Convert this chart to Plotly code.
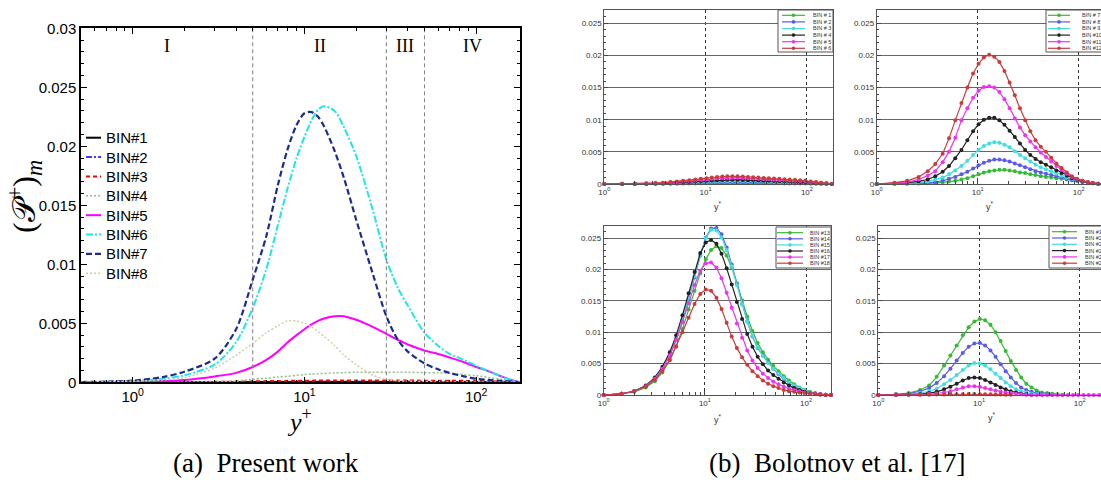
import math
import plotly.graph_objects as go

W, H = 1101, 480

# ------------------------------------------------------------------
# Panel (a): Present work
# ------------------------------------------------------------------
yplus_a = [0.5, 1, 1.5, 2, 3, 4, 5, 6, 7, 8, 9, 10, 11, 12, 13, 15, 17, 20, 25, 30,
           35, 40, 50, 60, 70, 85, 100, 120, 140, 160, 180]

a_names = ["BIN#1", "BIN#2", "BIN#3", "BIN#4", "BIN#5", "BIN#6", "BIN#7", "BIN#8"]

a_bin1 = [0, 0, 0, 0, 0.00001, 0.00001, 0.00002, 0.00002, 0.00002, 0.00002, 0.00003,
          0.00003, 0.00003, 0.00003, 0.00003, 0.00003, 0.00003, 0.00003, 0.00003, 0.00003,
          0.00003, 0.00003, 0.00002, 0.00002, 0.00002, 0.00002, 0.00002, 0.00001, 0.00001, 0, 0]
a_bin2 = [0, 0, 0, 0.00001, 0.00002, 0.00003, 0.00004, 0.00004, 0.00005, 0.00005, 0.00006,
          0.00006, 0.00006, 0.00006, 0.00006, 0.00006, 0.00006, 0.00006, 0.00006, 0.00006,
          0.00006, 0.00006, 0.00005, 0.00005, 0.00005, 0.00004, 0.00004, 0.00003, 0.00002, 0.00001, 0]
a_bin3 = [0, 0, 0.00001, 0.00002, 0.00004, 0.00006, 0.00008, 0.0001, 0.00011, 0.00012, 0.00013,
          0.00014, 0.00014, 0.00015, 0.00015, 0.00015, 0.00015, 0.00015, 0.00015, 0.00015,
          0.00015, 0.00015, 0.00014, 0.00014, 0.00013, 0.00012, 0.00011, 0.00009, 0.00006, 0.00003, 0]
a_bin4 = [0, 0, 0.00001, 0.00002, 0.00005, 0.0001, 0.00025, 0.00035, 0.00045, 0.0005, 0.0006,
          0.00065, 0.0007, 0.00072, 0.00075, 0.0008, 0.00082, 0.00085, 0.00085, 0.00085,
          0.00085, 0.00085, 0.00082, 0.0008, 0.00075, 0.00065, 0.00055, 0.0004, 0.00025, 0.0001, 0]
a_bin5 = [0, 0.00005, 0.0001, 0.0002, 0.0005, 0.0008, 0.0013, 0.0019, 0.0026, 0.0034, 0.004,
          0.0045, 0.0049, 0.0052, 0.0054, 0.0056, 0.0056, 0.0053, 0.0047, 0.0041,
          0.0036, 0.0032, 0.0027, 0.0024, 0.0021, 0.0017, 0.0013, 0.0009, 0.0005, 0.0002, 0]
a_bin6 = [0.00001, 0.0001, 0.0003, 0.0006, 0.0015, 0.0034, 0.0063, 0.0096, 0.0133, 0.0165, 0.019,
          0.0208, 0.0222, 0.0231, 0.0234, 0.023, 0.0216, 0.0192, 0.0146, 0.0104,
          0.008, 0.0065, 0.0042, 0.0031, 0.0024, 0.0019, 0.0014, 0.0009, 0.0005, 0.0002, 0]
a_bin7 = [0.00002, 0.00014, 0.00045, 0.0009, 0.002, 0.0045, 0.0087, 0.0124, 0.0167, 0.0198, 0.0218,
          0.0228, 0.0229, 0.0225, 0.0217, 0.0196, 0.0173, 0.0138, 0.0092, 0.0056,
          0.0036, 0.0026, 0.0016, 0.0011, 0.0008, 0.0005, 0.0003, 0.0002, 0.00012, 0.00006, 0]
a_bin8 = [0, 0.0001, 0.0002, 0.0004, 0.0012, 0.0023, 0.0033, 0.0042, 0.0048, 0.0052, 0.0052,
          0.005, 0.0047, 0.0043, 0.0039, 0.0031, 0.0023, 0.0015, 0.0006, 0.00025,
          0.00012, 0.0001, 0.00005, 0.00003, 0.00003, 0.00002, 0.00002, 0.00001, 0.00001, 0, 0]
a_series = [a_bin1, a_bin2, a_bin3, a_bin4, a_bin5, a_bin6, a_bin7, a_bin8]

region_bounds = [0.5, 5, 30, 50, 180]
region_labels = ["I", "II", "III", "IV"]

x_tick_vals = [1, 10, 100]
x_tick_text = ["10<sup>0</sup>", "10<sup>1</sup>", "10<sup>2</sup>"]

# ------------------------------------------------------------------
# Panel (b): Bolotnov et al.
# ------------------------------------------------------------------
yplus_b = [1.0, 1.5, 2.0, 2.6, 3.2, 3.8, 4.5, 5.2, 6.0, 6.9,
           7.9, 9.0, 10.2, 11.5, 13.0, 14.6, 16.4, 18.4, 20.7, 23.3,
           26.2, 29.5, 33.2, 37.4, 42.1, 47.4, 53.4, 60.1, 67.7, 76.2,
           85.8, 96.6, 109, 123, 138, 156, 176]

# top-left: BIN #1 - #6
b_bin1 = [0, 0, 0, 0.00001, 0.00002, 0.00002, 0.00004, 0.00005, 0.00006, 0.00007,
          0.00008, 0.0001, 0.00011, 0.00012, 0.00013, 0.00014, 0.00014, 0.00014, 0.00014, 0.00014,
          0.00013, 0.00013, 0.00012, 0.00011, 0.00011, 0.0001, 0.0001, 0.00009, 0.00008, 0.00008,
          0.00007, 0.00007, 0.00005, 0.00004, 0.00002, 0.00001, 0]
b_bin2 = [0, 0, 0.00001, 0.00003, 0.00004, 0.00005, 0.00008, 0.0001, 0.00013, 0.00015,
          0.00018, 0.0002, 0.00023, 0.00025, 0.00028, 0.00029, 0.0003, 0.0003, 0.0003, 0.00029,
          0.00028, 0.00026, 0.00025, 0.00024, 0.00023, 0.00021, 0.0002, 0.00019, 0.00018, 0.00016,
          0.00015, 0.00014, 0.0001, 0.00008, 0.00005, 0.00003, 0]
b_bin3 = [0, 0.00001, 0.00002, 0.00004, 0.00006, 0.00008, 0.00012, 0.00016, 0.0002, 0.00024,
          0.00028, 0.00032, 0.00036, 0.0004, 0.00044, 0.00046, 0.00048, 0.00048, 0.00048, 0.00046,
          0.00044, 0.00042, 0.0004, 0.00038, 0.00036, 0.00034, 0.00032, 0.0003, 0.00028, 0.00026,
          0.00024, 0.00022, 0.00016, 0.00012, 0.00008, 0.00004, 0]
b_bin4 = [0, 0.00001, 0.00003, 0.00005, 0.00008, 0.00011, 0.00017, 0.00022, 0.00028, 0.00033,
          0.00039, 0.00044, 0.0005, 0.00055, 0.0006, 0.00063, 0.00066, 0.00066, 0.00066, 0.00063,
          0.0006, 0.00058, 0.00055, 0.00052, 0.0005, 0.00047, 0.00044, 0.00041, 0.00039, 0.00036,
          0.00033, 0.0003, 0.00022, 0.00017, 0.00011, 0.00006, 0]
b_bin5 = [0, 0.00002, 0.00004, 0.00008, 0.00012, 0.00016, 0.00024, 0.00032, 0.0004, 0.00048,
          0.00056, 0.00064, 0.00072, 0.0008, 0.00088, 0.00092, 0.00095, 0.00096, 0.00096, 0.00092,
          0.00088, 0.00084, 0.0008, 0.00076, 0.00072, 0.00068, 0.00064, 0.0006, 0.00056, 0.00052,
          0.00048, 0.00044, 0.00032, 0.00024, 0.00016, 0.00008, 0]
b_bin6 = [0, 0.00002, 0.00005, 0.0001, 0.00015, 0.0002, 0.0003, 0.0004, 0.0005, 0.0006,
          0.0007, 0.0008, 0.0009, 0.001, 0.0011, 0.00115, 0.0012, 0.0012, 0.0012, 0.00115,
          0.0011, 0.00105, 0.001, 0.00095, 0.0009, 0.00085, 0.0008, 0.00075, 0.0007, 0.00065,
          0.0006, 0.00055, 0.0004, 0.0003, 0.0002, 0.0001, 0]

# top-right: BIN #7 - #12
b_bin7 = [0, 0.00001, 0.00003, 0.00006, 0.0001, 0.00015, 0.00025, 0.0004, 0.0005, 0.0007,
          0.0009, 0.0012, 0.0015, 0.0018, 0.002, 0.0021, 0.0022, 0.0022, 0.0021, 0.002,
          0.0018, 0.0017, 0.0015, 0.0014, 0.0012, 0.0011, 0.001, 0.0009, 0.0008, 0.0007,
          0.0006, 0.0005, 0.0003, 0.0002, 0.0001, 0.00005, 0]
b_bin8 = [0, 0.00003, 0.00006, 0.0001, 0.0002, 0.0003, 0.0005, 0.0008, 0.0011, 0.0015,
          0.0019, 0.0024, 0.0029, 0.0033, 0.0036, 0.0038, 0.0038, 0.0037, 0.0035, 0.0032,
          0.0029, 0.0026, 0.0023, 0.002, 0.0018, 0.0016, 0.0014, 0.0012, 0.001, 0.0008,
          0.0006, 0.0005, 0.0003, 0.0002, 0.0001, 0.00005, 0]
b_bin9 = [0, 0.00005, 0.0001, 0.0002, 0.0004, 0.0007, 0.001, 0.0015, 0.0021, 0.0028,
          0.0036, 0.0045, 0.0053, 0.0059, 0.0063, 0.0065, 0.0064, 0.0061, 0.0057, 0.0051,
          0.0045, 0.004, 0.0035, 0.003, 0.0026, 0.0023, 0.002, 0.0016, 0.0013, 0.001,
          0.0008, 0.0005, 0.0004, 0.0002, 0.0001, 0.00005, 0]
b_bin10 = [0, 0.0001, 0.0002, 0.0004, 0.0007, 0.0012, 0.0019, 0.0028, 0.004, 0.0053,
           0.0068, 0.0082, 0.0093, 0.01, 0.0103, 0.0103, 0.0099, 0.0092, 0.0083, 0.0073,
           0.0063, 0.0053, 0.0045, 0.0039, 0.0034, 0.003, 0.0026, 0.0021, 0.0017, 0.0013,
           0.0009, 0.0006, 0.0004, 0.0002, 0.0001, 0.00005, 0]
b_bin11 = [0, 0.0001, 0.0003, 0.0007, 0.0013, 0.002, 0.0034, 0.005, 0.0072, 0.0099,
           0.0118, 0.0134, 0.0145, 0.0151, 0.0152, 0.015, 0.0143, 0.0132, 0.0118, 0.0102,
           0.0088, 0.0076, 0.0066, 0.0057, 0.0049, 0.0042, 0.0035, 0.0028, 0.0022, 0.0016,
           0.0011, 0.0007, 0.0005, 0.0003, 0.00015, 0.00005, 0]
b_bin12 = [0, 0.0002, 0.0005, 0.0011, 0.002, 0.0031, 0.0047, 0.0071, 0.0099, 0.0126,
           0.015, 0.0172, 0.0187, 0.0197, 0.0201, 0.0198, 0.019, 0.0176, 0.0158, 0.0138,
           0.0118, 0.0099, 0.0082, 0.0068, 0.0058, 0.005, 0.0041, 0.0032, 0.0025, 0.0018,
           0.0012, 0.0008, 0.0005, 0.0003, 0.00015, 0.00005, 0]

# bottom-left: BIN #13 - #18
b_bin13 = [0, 0.0002, 0.0005, 0.0012, 0.0022, 0.0036, 0.0055, 0.0078, 0.0105, 0.0136,
           0.0166, 0.0194, 0.0216, 0.0231, 0.0237, 0.0234, 0.0222, 0.0203, 0.0178, 0.0151,
           0.0125, 0.0102, 0.0083, 0.0068, 0.0056, 0.0046, 0.0038, 0.003, 0.0023, 0.0017,
           0.0012, 0.0008, 0.0005, 0.0003, 0.0001, 0.00005, 0]
b_bin14 = [0, 0.0002, 0.0006, 0.0014, 0.0026, 0.0042, 0.0063, 0.0088, 0.0118, 0.0152,
           0.0187, 0.0222, 0.0251, 0.0265, 0.0266, 0.0256, 0.0235, 0.0208, 0.0177, 0.0145,
           0.0117, 0.0093, 0.0075, 0.0063, 0.0052, 0.0042, 0.0033, 0.0026, 0.0019, 0.0014,
           0.001, 0.0006, 0.0004, 0.0002, 0.0001, 0.00005, 0]
b_bin15 = [0, 0.0002, 0.0006, 0.0014, 0.0026, 0.0042, 0.0064, 0.009, 0.012, 0.0154,
           0.0189, 0.0223, 0.025, 0.0263, 0.0262, 0.0251, 0.0231, 0.0205, 0.0175, 0.0144,
           0.0117, 0.0094, 0.0076, 0.0062, 0.0051, 0.0042, 0.0034, 0.0027, 0.002, 0.0015,
           0.0011, 0.0007, 0.0004, 0.0002, 0.0001, 0.00005, 0]
b_bin16 = [0, 0.0002, 0.0006, 0.0015, 0.0028, 0.0045, 0.0068, 0.0095, 0.0127, 0.0162,
           0.0196, 0.0226, 0.0243, 0.0247, 0.0241, 0.0225, 0.0202, 0.0176, 0.0148, 0.0121,
           0.0097, 0.0077, 0.0061, 0.0049, 0.0039, 0.0032, 0.0026, 0.002, 0.0015, 0.0011,
           0.0008, 0.0005, 0.0003, 0.0002, 0.0001, 0.00005, 0]
b_bin17 = [0, 0.0002, 0.0006, 0.0014, 0.0026, 0.0042, 0.0063, 0.0088, 0.0116, 0.0146,
           0.0175, 0.0198, 0.021, 0.0211, 0.0203, 0.0186, 0.0163, 0.0139, 0.0114, 0.0091,
           0.0071, 0.0055, 0.0043, 0.0034, 0.0027, 0.0021, 0.0017, 0.0013, 0.001, 0.0008,
           0.0006, 0.0004, 0.0003, 0.0002, 0.0001, 0.00005, 0]
b_bin18 = [0, 0.0002, 0.0006, 0.0013, 0.0024, 0.0038, 0.0056, 0.0077, 0.01, 0.0123,
           0.0145, 0.0161, 0.0168, 0.0166, 0.0155, 0.0137, 0.0115, 0.0093, 0.0075, 0.006,
           0.0048, 0.0038, 0.003, 0.0023, 0.0018, 0.0014, 0.0011, 0.0008, 0.0006, 0.0005,
           0.0004, 0.0003, 0.0002, 0.0001, 0.00005, 0, 0]

# bottom-right: BIN #19 - #24 (None = no data plotted)
b_bin19 = [0, 0.0001, 0.0003, 0.0008, 0.0015, 0.0029, 0.0047, 0.0063, 0.0079, 0.0095,
           0.0108, 0.0117, 0.0121, 0.0119, 0.0112, 0.01, 0.0086, 0.007, 0.0054, 0.004,
           0.0028, 0.0018, 0.0012, 0.0007, 0.0004, 0.0003, 0.0002, 0.0001, 0.00005, None,
           None, None, None, None, None, None, None]
b_bin20 = [0, 0.0001, 0.0002, 0.0006, 0.0011, 0.0019, 0.003, 0.0042, 0.0055, 0.0067,
           0.0077, 0.0082, 0.0083, 0.0079, 0.0071, 0.0061, 0.0049, 0.0038, 0.0028, 0.0019,
           0.0012, 0.0008, 0.0005, 0.0003, 0.0002, 0.0001, 0.00005, None, None, None,
           None, None, None, None, None, None, None]
b_bin21 = [0, 0.00005, 0.0001, 0.0003, 0.0006, 0.001, 0.0017, 0.0024, 0.0032, 0.004,
           0.0047, 0.0051, 0.005, 0.0047, 0.0041, 0.0034, 0.0027, 0.002, 0.0014, 0.0009,
           0.0006, 0.0004, 0.0002, 0.0001, 0.00005, None, None, None, None, None,
           None, None, None, None, None, None, None]
b_bin22 = [0, 0.00003, 0.00007, 0.00015, 0.0003, 0.0005, 0.0009, 0.0013, 0.0018, 0.0023,
           0.0027, 0.0028, 0.0027, 0.0024, 0.002, 0.0016, 0.0012, 0.0009, 0.0006, 0.0004,
           0.0002, 0.0001, 0.00005, None, None, None, None, None, None, None,
           None, None, None, None, None, None, None]
b_bin23 = [0, 0.00001, 0.00003, 0.00008, 0.00015, 0.00025, 0.0004, 0.0006, 0.0009, 0.0012,
           0.0014, 0.0014, 0.0013, 0.0011, 0.0009, 0.0007, 0.0005, 0.0004, 0.0003, 0.0002,
           0.0001, 0.00005, 0, 0, 0, 0, 0, 0, 0, 0,
           0, 0, 0, 0, 0, 0, 0]
b_bin24 = [0, 0.00001, 0.00002, 0.00003, 0.00005, 0.00006, 0.00008, 0.0001, 0.00012, 0.00013,
           0.00014, 0.00014, 0.00013, 0.00012, 0.0001, 0.00008, 0.00006, 0.00004, 0.00002, None,
           None, None, None, None, None, None, None, None, None, None,
           None, None, None, None, None, None, None]

b_groups = [
    [b_bin1, b_bin2, b_bin3, b_bin4, b_bin5, b_bin6],
    [b_bin7, b_bin8, b_bin9, b_bin10, b_bin11, b_bin12],
    [b_bin13, b_bin14, b_bin15, b_bin16, b_bin17, b_bin18],
    [b_bin19, b_bin20, b_bin21, b_bin22, b_bin23, b_bin24],
]
b_names = [
    ["BIN # 1", "BIN # 2", "BIN # 3", "BIN # 4", "BIN # 5", "BIN # 6"],
    ["BIN # 7", "BIN # 8", "BIN # 9", "BIN #10", "BIN #11", "BIN #12"],
    ["BIN #13", "BIN #14", "BIN #15", "BIN #16", "BIN #17", "BIN #18"],
    ["BIN #19", "BIN #20", "BIN #21", "BIN #22", "BIN #23", "BIN #24"],
]

for s in a_series:
    assert len(s) == len(yplus_a)
for g in b_groups:
    for s in g:
        assert len(s) == len(yplus_b)

# ------------------------------------------------------------------
# styling
# ------------------------------------------------------------------
a_styles = [
    dict(color="#000000", dash="solid", width=2),
    dict(color="#0000ff", dash="6px,2px,2px,2px", width=1.5),
    dict(color="#ff0000", dash="4px,3px", width=2),
    dict(color="#8fc08f", dash="2px,2px", width=1.5),
    dict(color="#ff00ff", dash="solid", width=2),
    dict(color="#1ee6e6", dash="7px,2px,2px,2px", width=2),
    dict(color="#1c2c8c", dash="6px,3px", width=2.2),
    dict(color="#d3cda3", dash="2px,2px", width=1.5),
]
b_colors = ["#33bb33", "#5b5bea", "#44dddd", "#222222", "#ee33ee", "#cc3b3b"]

SANS = "Liberation Sans"
SERIF = "Liberation Serif"


def PX(x):
    return x / W


def PY(y):
    return 1 - y / H


fig = go.Figure()

# ---------------- panel (a) traces ----------------
for name, ys, st in zip(a_names, a_series, a_styles):
    fig.add_trace(go.Scatter(x=yplus_a, y=ys, mode="lines", name=name,
                             line=dict(color=st["color"], dash=st["dash"], width=st["width"],
                                       shape="spline", smoothing=0.8),
                             xaxis="x", yaxis="y", showlegend=False))

for b in region_bounds[1:-1]:
    fig.add_trace(go.Scatter(x=[b, b], y=[0, 0.03], mode="lines",
                             line=dict(color="#808080", width=1, dash="4px,3px"),
                             xaxis="x", yaxis="y", showlegend=False, hoverinfo="skip"))

# ---------------- panel (b) traces ----------------
for k, (group, names) in enumerate(zip(b_groups, b_names)):
    ax = str(k + 2)
    for name, ys, col in zip(names, group, b_colors):
        fig.add_trace(go.Scatter(x=yplus_b, y=ys, mode="lines+markers", name=name,
                                 line=dict(color=col, width=1.2),
                                 marker=dict(color=col, size=4),
                                 cliponaxis=False, connectgaps=False,
                                 xaxis="x" + ax, yaxis="y" + ax, showlegend=False))

# ---------------- axes ----------------
minor_log = [0.5, 0.6, 0.7, 0.8, 0.9, 2, 3, 4, 5, 6, 7, 8, 9,
             20, 30, 40, 50, 60, 70, 80, 90, 200]

layout_axes = {}
layout_axes["xaxis"] = dict(
    type="log", domain=[PX(81), PX(520)], range=[math.log10(0.5), math.log10(180)],
    anchor="y", showline=True, linecolor="black", linewidth=1.5, mirror="ticks",
    ticks="inside", ticklen=6, tickcolor="black", tickmode="array",
    tickvals=x_tick_vals, ticktext=x_tick_text, showgrid=False, zeroline=False,
    automargin=False,
    tickfont=dict(family=SANS, size=15, color="black"),
    minor=dict(ticks="inside", ticklen=3, tickcolor="black", tickmode="array",
               tickvals=minor_log, showgrid=False))
layout_axes["yaxis"] = dict(
    domain=[PY(382.3), PY(28.3)], range=[0, 0.03], anchor="x",
    showline=True, linecolor="black", linewidth=1.5, mirror="ticks",
    ticks="inside", ticklen=6, tickcolor="black", dtick=0.005, tick0=0,
    showgrid=False, zeroline=False, automargin=False,
    tickfont=dict(family=SANS, size=15, color="black"),
    minor=dict(ticks="inside", ticklen=3, tickcolor="black", dtick=0.001, showgrid=False))

right_geo = [
    # left px, right px, top px, bottom px, decade px
    (604.3, 833.0, 9.5, 184.0, 101.3),
    (876.7, 1101.0, 9.5, 184.0, 101.0),
    (603.7, 831.0, 225.7, 395.0, 101.2),
    (878.3, 1101.0, 225.7, 395.0, 100.7),
]
right_ymax = [0.02715, 0.02715, 0.02696, 0.02696]

for k, (l, r, t, b, dec) in enumerate(right_geo):
    ax = str(k + 2)
    layout_axes["xaxis" + ax] = dict(
        type="log", domain=[PX(l), min(PX(r), 1.0)], range=[0, (r - l) / dec],
        anchor="y" + ax, showline=True, linecolor="#555555", linewidth=1, mirror=True,
        ticks="inside", ticklen=4, tickcolor="#444444", tickmode="array",
        tickvals=x_tick_vals, ticktext=x_tick_text, automargin=False,
        showgrid=True, gridcolor="#333333", griddash="dot", gridwidth=1, zeroline=False,
        tickfont=dict(family=SANS, size=8, color="#333333"),
        minor=dict(ticks="inside", ticklen=3, tickcolor="#444444", tickmode="array",
                   tickvals=minor_log, showgrid=False))
    layout_axes["yaxis" + ax] = dict(
        domain=[PY(b), PY(t)], range=[0, right_ymax[k]], anchor="x" + ax,
        showline=True, linecolor="#555555", linewidth=1, mirror=True,
        ticks="inside", ticklen=4, tickcolor="#444444", dtick=0.005, tick0=0,
        showgrid=True, gridcolor="#666666", gridwidth=1, zeroline=False, automargin=False,
        tickfont=dict(family=SANS, size=8, color="#333333"),
        minor=dict(ticks="inside", ticklen=2, tickcolor="#444444", dtick=0.001, showgrid=False))

# ---------------- annotations & shapes ----------------
annotations = []
shapes = []


def note(x, y, text, font, xanchor="center", yanchor="middle", **kw):
    annotations.append(dict(x=PX(x), y=PY(y), xref="paper", yref="paper", text=text,
                            showarrow=False, xanchor=xanchor, yanchor=yanchor,
                            font=font, **kw))


# region labels (geometric centre of each region)
for i, lab in enumerate(region_labels):
    xc = (math.log10(region_bounds[i]) + math.log10(region_bounds[i + 1])) / 2
    annotations.append(dict(x=xc, y=PY(46), xref="x", yref="paper", text=lab,
                            showarrow=False, font=dict(family=SERIF, size=18, color="black"),
                            xanchor="center", yanchor="middle"))

# panel (a) legend
for i, (name, st) in enumerate(zip(a_names, a_styles)):
    yy = 137.7 + i * 19.37
    shapes.append(dict(type="line", xref="paper", yref="paper", x0=PX(86), x1=PX(101),
                       y0=PY(yy), y1=PY(yy),
                       line=dict(color=st["color"], dash=st["dash"], width=st["width"])))
    note(103.5, yy, name, dict(family=SANS, size=15, color="black"), xanchor="left")

# panel (a) axis titles
note(299, 420, "<i>y</i><sup>+</sup>", dict(family=SERIF, size=26, color="black"))
note(24, 197, "(𝒫<sup>+</sup>)<sub><i>m</i></sub>", dict(family=SERIF, size=32, color="black"),
     textangle=-90)

# panel (b) legends
leg_geo = [
    # box x0, box x1, box y0, box y1, line x0, line x1, text x, first row y, row step
    (778, 833, 10, 52, 782, 805, 811, 15.3, 6.6),
    (1046, 1110, 10, 52, 1048, 1070, 1080, 15.3, 6.6),
    (776, 831, 227, 268, 777, 803, 808, 232.7, 6.1),
    (1049, 1110, 226, 268, 1052, 1077, 1083, 231.7, 6.3),
]
for k, (bx0, bx1, by0, by1, lx0, lx1, tx, ry0, dy) in enumerate(leg_geo):
    shapes.append(dict(type="rect", xref="paper", yref="paper", x0=PX(bx0), x1=PX(bx1),
                       y0=PY(by1), y1=PY(by0), fillcolor="white",
                       line=dict(color="#555555", width=1), layer="above"))
    for i, (name, col) in enumerate(zip(b_names[k], b_colors)):
        yy = ry0 + i * dy
        shapes.append(dict(type="line", xref="paper", yref="paper", x0=PX(lx0), x1=PX(lx1),
                           y0=PY(yy), y1=PY(yy), line=dict(color=col, width=1.2), layer="above"))
        cx = (lx0 + lx1) / 2
        shapes.append(dict(type="circle", xref="paper", yref="paper",
                           x0=PX(cx - 1.8), x1=PX(cx + 1.8), y0=PY(yy + 1.8), y1=PY(yy - 1.8),
                           fillcolor=col, line=dict(width=0), layer="above"))
        note(tx, yy, name, dict(family=SANS, size=5.5, color="#333333"), xanchor="left")

# panel (b) axis titles
for (xx, yy) in [(718, 206), (990, 206), (718, 419), (992, 417)]:
    note(xx, yy, "y<sup>*</sup>", dict(family=SANS, size=9, color="#333333"))

# captions
note(266, 463, "(a)  Present work", dict(family=SERIF, size=27, color="black"))
note(837, 463, "(b)  Bolotnov et al. [17]", dict(family=SERIF, size=27, color="black"))

fig.update_layout(
    template="none",
    width=W, height=H, margin=dict(l=0, r=0, t=0, b=0, pad=0),
    paper_bgcolor="white", plot_bgcolor="white",
    showlegend=False, annotations=annotations, shapes=shapes,
    **layout_axes)

fig.write_html("out.html", config={"displayModeBar": False},
               post_script="document.body.style.margin='0px';document.body.style.overflow='hidden';")
